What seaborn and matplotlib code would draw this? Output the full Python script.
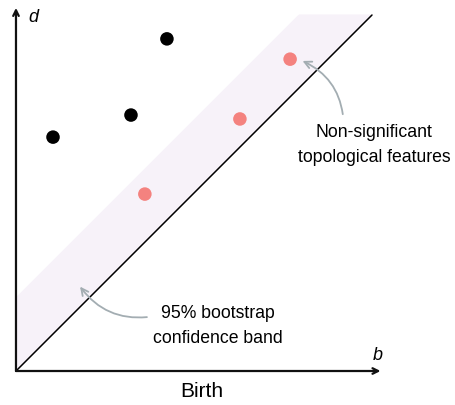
import matplotlib.pyplot as plt
import numpy as np
import pandas as pd
import seaborn as sns

# persistence diagram points (birth, death)
sig_birth = [1.04, 3.23, 4.24]
sig_death = [6.57, 7.19, 9.33]
noise_birth = [3.62, 6.29, 7.70]
noise_death = [4.97, 7.08, 8.76]
band_width = 2.1
diag_max = 10.0

df = pd.DataFrame(
    {
        "birth": sig_birth + noise_birth,
        "death": sig_death + noise_death,
        "kind": ["significant"] * 3 + ["noise"] * 3,
    }
)

sns.set_style("white")
plt.rcParams["font.family"] = ["Liberation Sans", "DejaVu Sans"]
plt.rcParams["text.color"] = "black"

fig = plt.figure(figsize=(4.56, 4.06), dpi=100)
ax = fig.add_axes([0, 0, 1, 1])
ax.set_xlim(-0.449, 12.36)
ax.set_ylim(-0.955, 10.45)
ax.axis("off")

# confidence band above the diagonal
xs = np.linspace(0, diag_max, 200)
ax.fill_between(
    xs, xs, np.minimum(xs + band_width, 10.03), color="#f7f2f9", lw=0, zorder=1
)
ax.plot([0, diag_max], [0, diag_max], color="black", lw=1.1, zorder=2)

sns.scatterplot(
    data=df,
    x="birth",
    y="death",
    hue="kind",
    palette={"significant": "black", "noise": "#f4827f"},
    s=95,
    edgecolor="none",
    legend=False,
    ax=ax,
    zorder=3,
)

# axes with arrows
ax.annotate("", xy=(10.24, 0), xytext=(0, 0),
            arrowprops=dict(arrowstyle="->", lw=1.6, color="#111111",
                            shrinkA=0, shrinkB=0))
ax.annotate("", xy=(0, 10.2), xytext=(0, 0),
            arrowprops=dict(arrowstyle="->", lw=1.6, color="#111111",
                            shrinkA=0, shrinkB=0))
ax.text(0.35, 9.97, "d", fontsize=13, style="italic", va="center", ha="left")
ax.text(10.15, 0.45, "b", fontsize=13, style="italic", va="center", ha="center")
ax.text(5.23, -0.55, "Birth", fontsize=15, ha="center", va="center")

# annotations
ax.annotate(
    "Non-significant\ntopological features",
    xy=(8.05, 8.71), xytext=(10.06, 6.38),
    fontsize=12.7, ha="center", va="center", linespacing=1.6,
    arrowprops=dict(arrowstyle="->", color="#a3adb2", lw=1.3,
                    connectionstyle="arc3,rad=0.3",
                    relpos=(0.3, 1.0), shrinkA=4, shrinkB=0),
)
ax.annotate(
    "95% bootstrap\nconfidence band",
    xy=(1.8, 2.37), xytext=(5.67, 1.3),
    fontsize=12.7, ha="center", va="center", linespacing=1.6,
    arrowprops=dict(arrowstyle="->", color="#a3adb2", lw=1.3,
                    connectionstyle="arc3,rad=-0.3",
                    relpos=(0.0, 0.7), shrinkA=2, shrinkB=0),
)

plt.savefig("out.png", dpi=100)
